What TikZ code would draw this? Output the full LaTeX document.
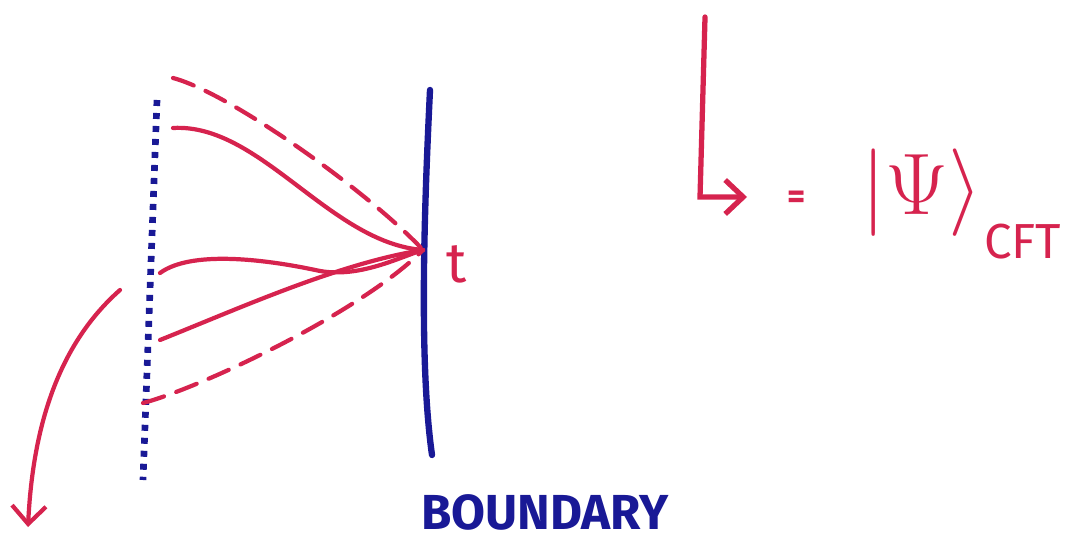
\documentclass[tikz,border=0pt]{standalone}
\definecolor{chalkred}{RGB}{214,35,78}
\definecolor{chalkblue}{RGB}{25,25,150}
\usepackage{amsmath,amssymb}
\usepackage{fontspec}
\newfontfamily\handfont{Fira Sans}
\usepackage{tikz}
\usetikzlibrary{arrows.meta,positioning,calc}

\begin{document}
\begin{tikzpicture}[
        >={Straight Barb[length=1.8mm,width=3.4mm]},
        geod/.style={chalkred, line width=1.2pt, line cap=round},
        dgeod/.style={geod, dash pattern=on 0.22cm off 0.13cm},
        bnd/.style={chalkblue, line width=1.8pt, line cap=round},
        bulk/.style={chalkblue, line width=1.9pt, dash pattern=on 0.06cm off 0.07cm},
        lbl/.style={inner sep=0pt, font=\handfont}]
        \useasboundingbox (0,0) rectangle (10.78,5.43);
        % boundary and the cut in the bulk
        \coordinate (bt) at (4.30,4.53);
        \coordinate (bb) at (4.32,0.88);
        \coordinate (t) at (4.23,2.93);
        \draw[bnd] (bt) .. controls (4.24,3.3) and (4.19,1.8) .. (bb);
        \draw[bulk] (1.57,4.43) -- (1.43,0.63);
        \node[lbl, text=chalkred, font=\handfont\fontsize{16}{18}\selectfont] (tl) at (4.57,2.79) {t};
        \node[lbl, text=chalkblue, font=\handfont\fontsize{14}{16}\selectfont\bfseries] (bl) at (5.45,0.31) {BOUNDARY};
        % geodesics ending on t
        \coordinate (g1) at (1.73,4.65);
        \coordinate (g2) at (1.73,4.15);
        \coordinate (g3) at (1.60,2.70);
        \coordinate (g4) at (1.60,2.03);
        \coordinate (g5) at (1.43,1.40);
        \draw[dgeod] (g1) .. controls (2.3,4.5) and (3.7,3.5) .. (t);
        \draw[geod] (g2) .. controls (2.6,4.2) and (3.3,3.0) .. (t);
        \draw[geod] (g3) .. controls (1.9,2.92) and (2.6,2.85) .. (3.2,2.72)
            .. controls (3.6,2.65) and (4.0,2.86) .. (t);
        \draw[geod] (g4) .. controls (2.4,2.35) and (3.4,2.8) .. (t);
        \draw[dgeod] (g5) .. controls (2.0,1.55) and (3.6,2.3) .. (t);
        \coordinate (a0) at (1.20,2.53);
        \coordinate (a1) at (0.28,0.16);
        \draw[geod, ->] (a0) .. controls (0.6,2.0) and (0.33,1.2) .. (a1);
        % the state
        \coordinate (l0) at (7.05,5.26);
        \coordinate (l1) at (7.00,3.46);
        \coordinate (l2) at (7.47,3.46);
        \draw[geod, line width=1.5pt, ->] (l0) -- (l1) -- (l2);
        \node[lbl, text=chalkred, font=\handfont\fontsize{10}{11}\selectfont\bfseries] (eq) at (7.97,3.43) {=};
        \node[lbl, text=chalkred, font=\fontsize{26}{30}\selectfont] (ket) at (9.22,3.50) {$|\Psi\rangle$};
        \node[lbl, text=chalkred, font=\handfont\fontsize{14}{16}\selectfont, anchor=north west] (cft) at ([yshift=4pt]ket.south east) {CFT};
    \end{tikzpicture}
\end{document}
